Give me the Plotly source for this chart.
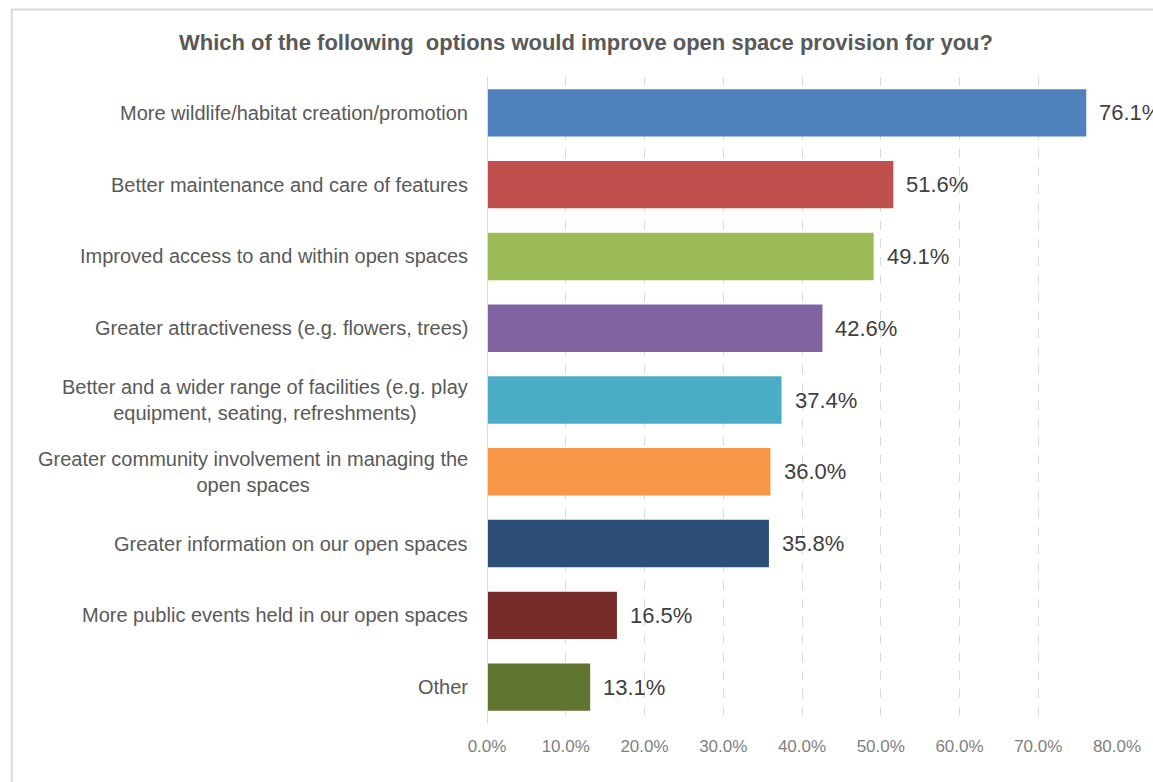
import plotly.graph_objects as go

title = "Which of the following  options would improve open space provision for you?"

categories = [
    "More wildlife/habitat creation/promotion",
    "Better maintenance and care of features",
    "Improved access to and within open spaces",
    "Greater attractiveness (e.g. flowers, trees)",
    "Better and a wider range of facilities (e.g. play<br>equipment, seating, refreshments)",
    "Greater community involvement in managing the<br>open spaces",
    "Greater information on our open spaces",
    "More public events held in our open spaces",
    "Other",
]
values = [76.1, 51.6, 49.1, 42.6, 37.4, 36.0, 35.8, 16.5, 13.1]
colors = ["#4F81BD", "#C0504D", "#9BBB59", "#8064A2", "#4BACC6",
          "#F79646", "#2C4D75", "#772C2A", "#5F7530"]
tick_vals = [0, 10, 20, 30, 40, 50, 60, 70, 80]
tick_text = ["0.0%", "10.0%", "20.0%", "30.0%", "40.0%", "50.0%", "60.0%", "70.0%", "80.0%"]

W, H = 1153, 782
L, R, T, B = 487, 33, 77, 59
FONT = "Liberation Sans, Arial, sans-serif"

ids = list(range(len(categories)))

fig = go.Figure(go.Bar(
    x=values,
    y=ids,
    orientation="h",
    marker=dict(color=colors, line=dict(width=0)),
    width=0.66,
    hoverinfo="skip",
))

annotations = []
# category labels as centred multi-line text blocks left of the axis
for i, c in zip(ids, categories):
    annotations.append(dict(
        x=0, xref="paper", xanchor="right", xshift=-17,
        y=i, yref="y", yanchor="middle",
        text=c, showarrow=False, align="center",
        font=dict(family=FONT, size=20, color="#595959"),
    ))
# value labels just past the end of each bar
for i, v in zip(ids, values):
    annotations.append(dict(
        x=v, xref="x", xanchor="left", xshift=11,
        y=i, yref="y", yanchor="middle",
        text=f"{v:.1f}%", showarrow=False,
        font=dict(family=FONT, size=22, color="#404040"),
    ))

pw = W - L - R
ph = H - T - B
annotations.append(dict(
    x=(586 - L) / pw, xref="paper", y=1 + (T - 42) / ph, yref="paper",
    text=f"<b>{title}</b>", showarrow=False, xanchor="center", yanchor="middle",
    font=dict(family=FONT, size=22, color="#595959"),
))

shapes = [
    # outer chart border
    dict(type="rect", xref="paper", yref="paper",
         x0=(9.5 - L) / pw, x1=(W + 20 - L) / pw,
         y0=-(H + 20 - T - ph) / ph, y1=1 + (T - 9.5) / ph,
         line=dict(color="#D9D9D9", width=2), fillcolor="rgba(0,0,0,0)", layer="below"),
    # category axis line at zero
    dict(type="line", xref="x", yref="paper", x0=0, x1=0, y0=0, y1=1,
         line=dict(color="#D9D9D9", width=2)),
]

fig.update_layout(
    width=W, height=H,
    margin=dict(l=L, r=R, t=T, b=B),
    paper_bgcolor="white", plot_bgcolor="white",
    showlegend=False,
    annotations=annotations,
    shapes=shapes,
    xaxis=dict(
        range=[0, 80], tickvals=tick_vals, ticktext=tick_text,
        showgrid=True, gridcolor="#D9D9D9", griddash="dash", gridwidth=1,
        zeroline=False, showline=False, ticks="",
        tickfont=dict(family=FONT, size=17, color="#7F7F7F"),
        ticklabelstandoff=11, fixedrange=True,
    ),
    yaxis=dict(
        range=[len(categories) - 0.5, -0.5],
        showticklabels=False, showgrid=False, zeroline=False,
        showline=False, ticks="", fixedrange=True,
    ),
)

fig.write_html("out.html")
